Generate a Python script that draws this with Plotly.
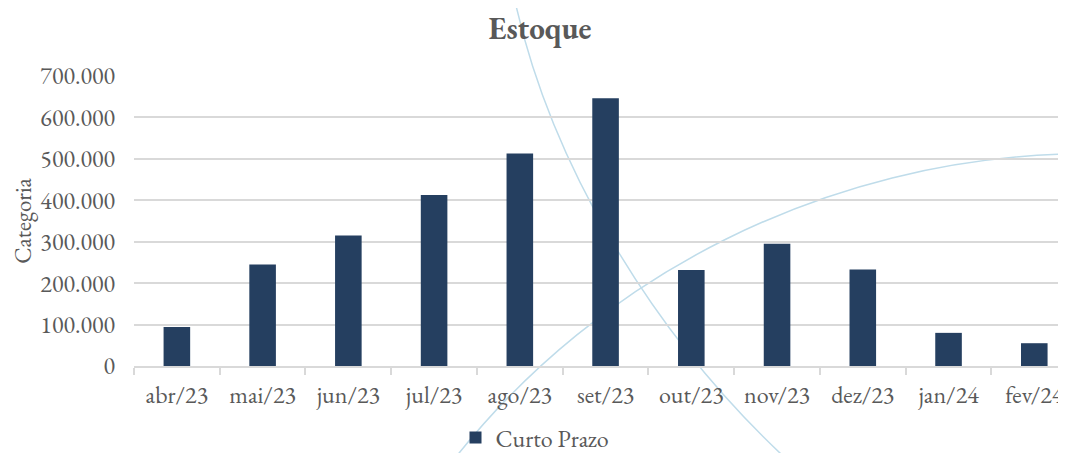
import plotly.graph_objects as go

# data
months = ["abr/23", "mai/23", "jun/23", "jul/23", "ago/23", "set/23",
          "out/23", "nov/23", "dez/23", "jan/24", "fev/24"]
curto_prazo = [94000, 245000, 315000, 413000, 513000, 646000,
               232000, 295000, 233000, 80000, 55000]
y_ticks = [0, 100000, 200000, 300000, 400000, 500000, 600000, 700000]

FONT = "Garamond, 'EB Garamond', 'Liberation Serif', 'DejaVu Serif', serif"
GREY = "#595959"
GRID = "#D9D9D9"
BAR = "#253F60"
ARC = "#BFDCEA"

# the page body has an 8px margin, so the figure is a bit smaller than the window
OFF = 8
W, H = 1058, 445
L, R, T, B = 126, 0, 68, 87


def to_paper(px, py):
    # window pixel -> paper coords of the plot area (decoration only)
    px, py = px - OFF, py - OFF
    return (px - L) / (W - L - R), (H - B - py) / (H - T - B)


def bezier(p0, p1, p2, p3):
    pts = [to_paper(*p) for p in (p0, p1, p2, p3)]
    return "M {} {} C {} {}, {} {}, {} {}".format(
        *[f"{v:.4f}" for pt in pts for v in pt])


fig = go.Figure()
fig.add_trace(go.Bar(
    x=months, y=curto_prazo, name="Curto Prazo",
    marker=dict(color=BAR, line=dict(width=0)), width=0.31,
))

# background swooshes
arcs = [
    bezier((513, -8), (548, 160), (650, 330), (781, 454)),
    bezier((452, 462), (600, 272), (830, 160), (1068, 154)),
]
for p in arcs:
    fig.add_shape(type="path", path=p, xref="paper", yref="paper",
                  line=dict(color=ARC, width=1.5), layer="below")

legend_x, legend_y = to_paper(535, 438)
title_x, title_y = to_paper(540, 28)

fig.update_layout(
    width=W, height=H, autosize=False,
    margin=dict(l=L, r=R, t=T, b=B, autoexpand=False),
    paper_bgcolor="white", plot_bgcolor="white",
    separators=",.",
    font=dict(family=FONT, color=GREY, size=24),
    title=dict(text="<b>Estoque</b>", x=title_x, xref="paper", xanchor="center",
               y=1 - (28 - OFF) / H, yanchor="middle",
               font=dict(size=31, color=GREY)),
    showlegend=True,
    legend=dict(orientation="h", x=legend_x, xanchor="center",
                y=legend_y, yanchor="middle", font=dict(size=24, color=GREY),
                itemwidth=30, bgcolor="rgba(0,0,0,0)"),
    bargap=0.69,
)
fig.update_xaxes(
    range=[-0.5, 10.37], tickson="boundaries", ticks="outside", ticklen=7,
    tickcolor=GRID, tickwidth=1.5, showline=True, linecolor=GRID, linewidth=1.5,
    showgrid=False, ticklabelstandoff=6, tickangle=0, automargin=False,
)
fig.update_yaxes(
    range=[0, 700000], tickvals=y_ticks, tickformat=",d",
    showgrid=True, gridcolor=GRID, gridwidth=1.5, zeroline=False,
    showline=False, ticks="", ticklabelstandoff=18, automargin=False,
    title=dict(text="Categoria", standoff=8, font=dict(size=23, color=GREY)),
)

fig.write_html("out.html")
